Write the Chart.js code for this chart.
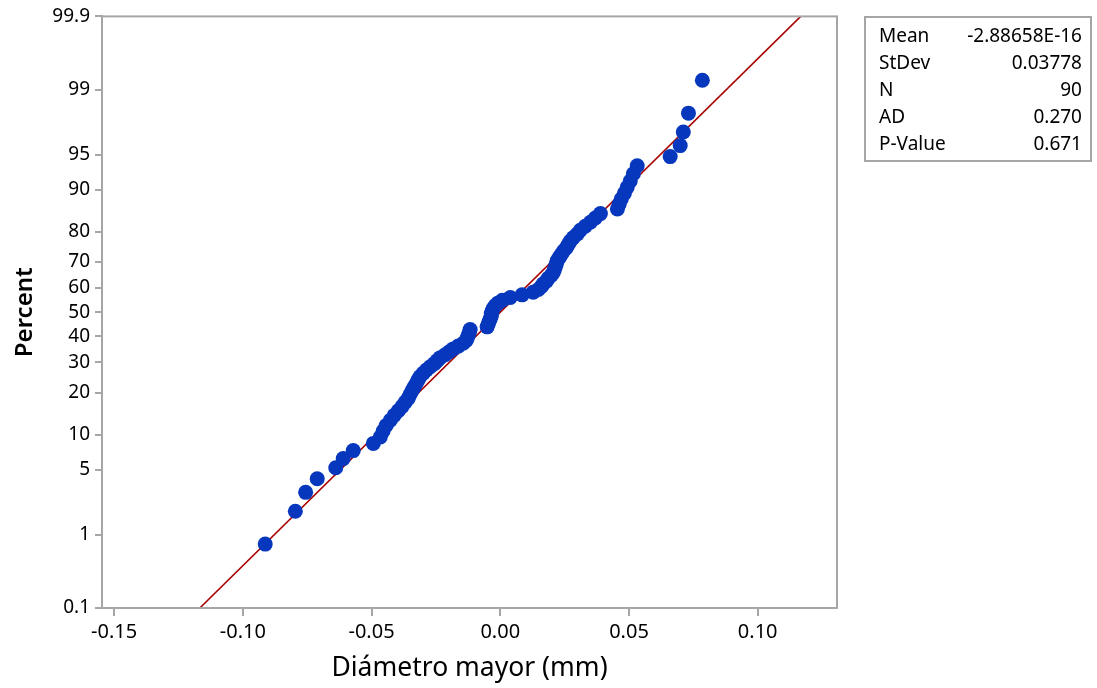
<!DOCTYPE html>
<html>
<head>
<meta charset="utf-8">
<title>Probability Plot</title>
<script src="https://cdn.jsdelivr.net/npm/chart.js@4.4.0/dist/chart.umd.min.js"></script>
<style>
  html, body { margin: 0; padding: 0; background: #fff; }
  #wrap { position: relative; width: 1097px; height: 688px; }
  #stats {
    position: absolute; left: 864px; top: 16px; width: 228px;
    box-sizing: border-box; border: 2px solid #a6a6a6;
    padding: 4px 8px 3px 13px;
    font-family: "Noto Sans", sans-serif; font-size: 19px; color: #000;
  }
  #stats table { width: 100%; border-collapse: collapse; }
  #stats td { padding: 0; height: 27px; line-height: 27px; white-space: nowrap; }
  #stats td.v { text-align: right; }
</style>
</head>
<body>
<div id="wrap">
  <canvas id="probChart" width="1097" height="688"></canvas>
  <div id="stats"><table id="statsTable"></table></div>
</div>
<script>
// sorted data values (mm)
var diametro = [
  -0.0913, -0.0796, -0.0756, -0.0711, -0.0639, -0.0610, -0.0571, -0.0493, -0.0466, -0.0455,
  -0.0443, -0.0427, -0.0412, -0.0396, -0.0381, -0.0369, -0.0357, -0.0350, -0.0342, -0.0334,
  -0.0326, -0.0319, -0.0311, -0.0299, -0.0287, -0.0272, -0.0256, -0.0245, -0.0233, -0.0214,
  -0.0198, -0.0183, -0.0163, -0.0144, -0.0132, -0.0128, -0.0124, -0.0120, -0.0117, -0.0051,
  -0.0047, -0.0043, -0.0039, -0.0035, -0.0035, -0.0031, -0.0027, -0.0019, -0.0008, 0.0008,
  0.0039, 0.0085, 0.0128, 0.0148, 0.0159, 0.0167, 0.0179, 0.0186, 0.0198, 0.0206,
  0.0210, 0.0214, 0.0218, 0.0221, 0.0229, 0.0237, 0.0245, 0.0256, 0.0264, 0.0272,
  0.0284, 0.0299, 0.0311, 0.0330, 0.0350, 0.0369, 0.0389, 0.0455, 0.0462, 0.0470,
  0.0482, 0.0493, 0.0505, 0.0517, 0.0532, 0.0660, 0.0699, 0.0711, 0.0731, 0.0785
];
// percent (plotting position) of each point
var percent = [
  0.77, 1.88, 2.99, 4.09, 5.20, 6.31, 7.41, 8.52, 9.62, 10.73,
  11.84, 12.94, 14.05, 15.15, 16.26, 17.37, 18.47, 19.58, 20.69, 21.79,
  22.90, 24.00, 25.11, 26.22, 27.32, 28.43, 29.54, 30.64, 31.75, 32.85,
  33.96, 35.07, 36.17, 37.28, 38.38, 39.49, 40.60, 41.70, 42.81, 43.92,
  45.02, 46.13, 47.23, 48.34, 49.45, 50.55, 51.66, 52.77, 53.87, 54.98,
  56.08, 57.19, 58.30, 59.40, 60.51, 61.62, 62.72, 63.83, 64.93, 66.04,
  67.15, 68.25, 69.36, 70.46, 71.57, 72.68, 73.78, 74.89, 76.00, 77.10,
  78.21, 79.31, 80.42, 81.53, 82.63, 83.74, 84.85, 85.95, 87.06, 88.16,
  89.27, 90.38, 91.48, 92.59, 93.69, 94.80, 95.91, 97.01, 98.12, 99.23
];
// fitted normal line end points
var fitX = [-0.1167, 0.1167];
var fitPct = [0.1, 99.9];

var yTickPct = [0.1, 1, 5, 10, 20, 30, 40, 50, 60, 70, 80, 90, 95, 99, 99.9];
var yTickLabels = ["0.1", "1", "5", "10", "20", "30", "40", "50", "60", "70", "80", "90", "95", "99", "99.9"];
var xTicks = [-0.15, -0.10, -0.05, 0.00, 0.05, 0.10];
var xTickLabels = ["-0.15", "-0.10", "-0.05", "0.00", "0.05", "0.10"];

var statLabels = ["Mean", "StDev", "N", "AD", "P-Value"];
var statValues = ["-2.88658E-16", "0.03778", "90", "0.270", "0.671"];

// inverse normal cdf (Acklam), input percent
function zOf(pct) {
  var p = pct / 100;
  var a = [-39.69683028665376, 220.9460984245205, -275.9285104469687, 138.3577518672690, -30.66479806614716, 2.506628277459239];
  var b = [-54.47609879822406, 161.5858368580409, -155.6989798598866, 66.80131188771972, -13.28068155288572];
  var c = [-0.007784894002430293, -0.3223964580411365, -2.400758277161838, -2.549732539343734, 4.374664141464968, 2.938163982698783];
  var d = [0.007784695709041462, 0.3224671290700398, 2.445134137142996, 3.754408661907416];
  var q, r;
  if (p < 0.02425) {
    q = Math.sqrt(-2 * Math.log(p));
    return (((((c[0]*q+c[1])*q+c[2])*q+c[3])*q+c[4])*q+c[5]) / ((((d[0]*q+d[1])*q+d[2])*q+d[3])*q+1);
  }
  if (p > 1 - 0.02425) {
    q = Math.sqrt(-2 * Math.log(1 - p));
    return -(((((c[0]*q+c[1])*q+c[2])*q+c[3])*q+c[4])*q+c[5]) / ((((d[0]*q+d[1])*q+d[2])*q+d[3])*q+1);
  }
  q = p - 0.5;
  r = q * q;
  return (((((a[0]*r+a[1])*r+a[2])*r+a[3])*r+a[4])*r+a[5])*q / (((((b[0]*r+b[1])*r+b[2])*r+b[3])*r+b[4])*r+1);
}

var axisGray = "#a6a6a6";
var fontFam = "'Noto Sans', sans-serif";

function buildStats() {
  var tbl = document.getElementById("statsTable");
  for (var i = 0; i < statLabels.length; i++) {
    var tr = document.createElement("tr");
    var td1 = document.createElement("td");
    td1.textContent = statLabels[i];
    var td2 = document.createElement("td");
    td2.className = "v";
    td2.textContent = statValues[i];
    tr.appendChild(td1);
    tr.appendChild(td2);
    tbl.appendChild(tr);
  }
}

var frameBox = {
  id: "frameBox",
  afterDatasetsDraw: function(chart) {
    var a = chart.chartArea;
    var ctx = chart.ctx;
    ctx.save();
    ctx.strokeStyle = axisGray;
    ctx.lineWidth = 2;
    ctx.strokeRect(a.left, a.top, a.right - a.left, a.bottom - a.top);
    ctx.restore();
  }
};

function init() {
  buildStats();

  var pts = [];
  for (var i = 0; i < diametro.length; i++) {
    pts.push({ x: diametro[i], y: zOf(percent[i]) });
  }
  var fitLine = [];
  for (var j = 0; j < fitX.length; j++) {
    fitLine.push({ x: fitX[j], y: zOf(fitPct[j]) });
  }

  var ctx = document.getElementById("probChart");
  new Chart(ctx, {
    type: "scatter",
    data: {
      datasets: [
        {
          label: "Diámetro mayor",
          data: pts,
          order: 0,
          backgroundColor: "#0637bd",
          borderColor: "#0637bd",
          pointRadius: 7.5,
          pointHoverRadius: 7.5,
          borderWidth: 0
        },
        {
          label: "Fit",
          type: "line",
          data: fitLine,
          order: 1,
          showLine: true,
          borderColor: "#a80000",
          borderWidth: 1.6,
          pointRadius: 0,
          fill: false
        }
      ]
    },
    options: {
      responsive: false,
      animation: false,
      devicePixelRatio: 1,
      layout: { padding: { top: 16, right: 260, left: 0, bottom: 0 } },
      plugins: {
        legend: { display: false },
        tooltip: { enabled: false }
      },
      scales: {
        x: {
          type: "linear",
          min: -0.1547,
          max: 0.1308,
          afterBuildTicks: function(scale) {
            scale.ticks = xTicks.map(function(v) { return { value: v }; });
          },
          afterFit: function(scale) { scale.height = 80; },
          grid: { display: true, drawOnChartArea: false, drawTicks: true, tickLength: 8, color: axisGray, lineWidth: 2 },
          border: { display: true, color: axisGray, width: 2 },
          ticks: {
            autoSkip: false,
            maxRotation: 0,
            padding: 4,
            color: "#000",
            font: { family: fontFam, size: 20 },
            callback: function(v, i) { return xTickLabels[i]; }
          },
          title: {
            display: true,
            text: "Diámetro mayor (mm)",
            color: "#000",
            font: { family: fontFam, size: 26.5 },
            padding: { top: 0, bottom: 4 }
          }
        },
        y: {
          type: "linear",
          min: zOf(yTickPct[0]),
          max: zOf(yTickPct[yTickPct.length - 1]),
          afterBuildTicks: function(scale) {
            scale.ticks = yTickPct.map(function(p) { return { value: zOf(p) }; });
          },
          afterFit: function(scale) { scale.width = 102; },
          grid: { display: true, drawOnChartArea: false, drawTicks: true, tickLength: 7, color: axisGray, lineWidth: 2 },
          border: { display: true, color: axisGray, width: 2 },
          ticks: {
            autoSkip: false,
            padding: 5,
            color: "#000",
            font: { family: fontFam, size: 19 },
            callback: function(v, i) { return yTickLabels[i]; }
          },
          title: {
            display: true,
            text: "Percent",
            color: "#000",
            font: { family: fontFam, size: 24, weight: "600" },
            padding: { top: 11, bottom: 0 }
          }
        }
      }
    },
    plugins: [frameBox]
  });
}

document.addEventListener("DOMContentLoaded", init);
</script>
</body>
</html>
